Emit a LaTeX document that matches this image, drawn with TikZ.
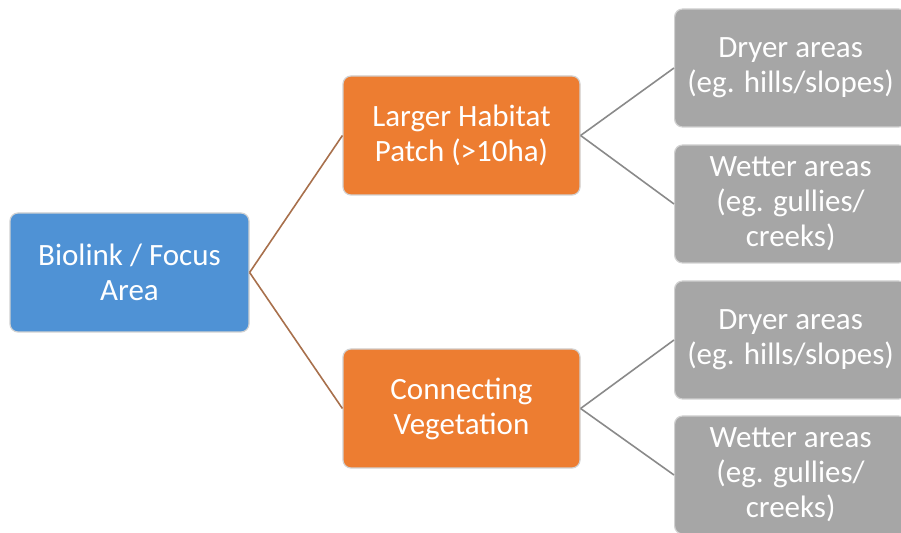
\documentclass[tikz,border=0pt]{standalone}
\usepackage{fontspec}
\setmainfont{Carlito}
\usetikzlibrary{positioning}
\definecolor{focusblue}{RGB}{79,146,213}
\definecolor{patchorange}{RGB}{237,125,49}
\definecolor{areagray}{RGB}{166,166,166}
\definecolor{linkbrown}{RGB}{168,112,76}
\definecolor{linkgray}{RGB}{138,138,138}
\tikzset{
  box/.style={draw=black!18, line width=.6pt, rounded corners=4pt, align=center, text=white, inner sep=0pt, font=\fontsize{15.5}{17.5}\selectfont},
  focus/.style={box, fill=focusblue, minimum width=119.5pt, minimum height=59.5pt},
  patch/.style={box, fill=patchorange, minimum width=118.5pt, minimum height=59.5pt},
  area/.style={box, fill=areagray, minimum width=116pt, minimum height=59pt, anchor=west},
  mainlink/.style={draw=linkbrown, line width=.8pt},
  sublink/.style={draw=linkgray, line width=.8pt}
}

\begin{document}
\begin{tikzpicture}[x=.5pt,y=-.5pt]
  \useasboundingbox (0,0) rectangle (901,533);
  \node[focus] (focus) at (129.5,272.5) {Biolink / Focus\\Area};
  \node[patch] (large) at (461.5,135.5) {Larger Habitat\\Patch (>10ha)};
  \node[patch] (conn) at (461.5,408.5) {Connecting\\Vegetation};
  % habitat types under each branch
  \node[area] (dryA) at (674,68) {Dryer areas\\(eg. hills/slopes)};
  \node[area] (wetA) at (674,204) {Wetter areas\\(eg. gullies/\\creeks)};
  \node[area] (dryB) at (674,340) {Dryer areas\\(eg. hills/slopes)};
  \node[area] (wetB) at (674,475) {Wetter areas\\(eg. gullies/\\creeks)};
  \draw[mainlink] (focus.east) -- (large.west);
  \draw[mainlink] (focus.east) -- (conn.west);
  \draw[sublink] (large.east) -- (dryA.west);
  \draw[sublink] (large.east) -- (wetA.west);
  \draw[sublink] (conn.east) -- (dryB.west);
  \draw[sublink] (conn.east) -- (wetB.west);
\end{tikzpicture}
\end{document}
